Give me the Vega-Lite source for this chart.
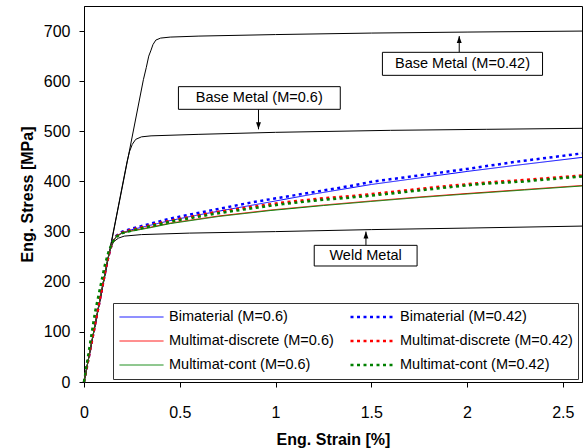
{
  "$schema": "https://vega.github.io/schema/vega-lite/v6.json",
  "width": 498,
  "height": 376,
  "autosize": {"type": "none"},
  "padding": {"left": 84, "top": 6, "right": 2, "bottom": 66},
  "background": "white",
  "config": {
    "font": "Liberation Sans",
    "view": {"stroke": "black", "strokeWidth": 1},
    "axis": {"grid": false, "domainColor": "black", "tickColor": "black", "tickSize": 5, "labelColor": "black", "titleColor": "black", "labelFontSize": 16, "titleFontSize": 16, "titleFontWeight": "bold", "labelFont": "Liberation Sans", "titleFont": "Liberation Sans", "labelFlush": false}
  },
  "datasets": {
    "base": [
      {"curve": "Base Metal (M=0.42)", "strain": 0, "stress": 0},
      {"curve": "Base Metal (M=0.42)", "strain": 0.31, "stress": 603},
      {"curve": "Base Metal (M=0.42)", "strain": 0.325, "stress": 627},
      {"curve": "Base Metal (M=0.42)", "strain": 0.338, "stress": 650},
      {"curve": "Base Metal (M=0.42)", "strain": 0.35, "stress": 662},
      {"curve": "Base Metal (M=0.42)", "strain": 0.36, "stress": 673},
      {"curve": "Base Metal (M=0.42)", "strain": 0.375, "stress": 682},
      {"curve": "Base Metal (M=0.42)", "strain": 0.4, "stress": 686},
      {"curve": "Base Metal (M=0.42)", "strain": 0.45, "stress": 688},
      {"curve": "Base Metal (M=0.42)", "strain": 0.6, "stress": 690},
      {"curve": "Base Metal (M=0.42)", "strain": 1.0, "stress": 693},
      {"curve": "Base Metal (M=0.42)", "strain": 1.5, "stress": 696},
      {"curve": "Base Metal (M=0.42)", "strain": 2.0, "stress": 698},
      {"curve": "Base Metal (M=0.42)", "strain": 2.6, "stress": 700},
      {"curve": "Base Metal (M=0.6)", "strain": 0, "stress": 0},
      {"curve": "Base Metal (M=0.6)", "strain": 0.225, "stress": 440},
      {"curve": "Base Metal (M=0.6)", "strain": 0.238, "stress": 460},
      {"curve": "Base Metal (M=0.6)", "strain": 0.252, "stress": 474},
      {"curve": "Base Metal (M=0.6)", "strain": 0.27, "stress": 484},
      {"curve": "Base Metal (M=0.6)", "strain": 0.3, "stress": 489},
      {"curve": "Base Metal (M=0.6)", "strain": 0.35, "stress": 491},
      {"curve": "Base Metal (M=0.6)", "strain": 0.6, "stress": 494},
      {"curve": "Base Metal (M=0.6)", "strain": 1.0, "stress": 498},
      {"curve": "Base Metal (M=0.6)", "strain": 1.6, "stress": 502},
      {"curve": "Base Metal (M=0.6)", "strain": 2.1, "stress": 504},
      {"curve": "Base Metal (M=0.6)", "strain": 2.6, "stress": 506},
      {"curve": "Weld Metal", "strain": 0, "stress": 0},
      {"curve": "Weld Metal", "strain": 0.128, "stress": 252},
      {"curve": "Weld Metal", "strain": 0.14, "stress": 268},
      {"curve": "Weld Metal", "strain": 0.155, "stress": 280},
      {"curve": "Weld Metal", "strain": 0.18, "stress": 287},
      {"curve": "Weld Metal", "strain": 0.21, "stress": 291},
      {"curve": "Weld Metal", "strain": 0.3, "stress": 294},
      {"curve": "Weld Metal", "strain": 0.55, "stress": 297},
      {"curve": "Weld Metal", "strain": 1.0, "stress": 300},
      {"curve": "Weld Metal", "strain": 1.5, "stress": 304},
      {"curve": "Weld Metal", "strain": 2.0, "stress": 307},
      {"curve": "Weld Metal", "strain": 2.6, "stress": 311}
    ],
    "fem": [
      {"series": "Bimaterial (M=0.6)", "strain": 0, "stress": 0},
      {"series": "Bimaterial (M=0.6)", "strain": 0.12, "stress": 238},
      {"series": "Bimaterial (M=0.6)", "strain": 0.135, "stress": 262},
      {"series": "Bimaterial (M=0.6)", "strain": 0.15, "stress": 280},
      {"series": "Bimaterial (M=0.6)", "strain": 0.17, "stress": 291},
      {"series": "Bimaterial (M=0.6)", "strain": 0.2, "stress": 298},
      {"series": "Bimaterial (M=0.6)", "strain": 0.25, "stress": 304},
      {"series": "Bimaterial (M=0.6)", "strain": 0.35, "stress": 313},
      {"series": "Bimaterial (M=0.6)", "strain": 0.45, "stress": 322},
      {"series": "Bimaterial (M=0.6)", "strain": 0.58, "stress": 332},
      {"series": "Bimaterial (M=0.6)", "strain": 0.75, "stress": 344},
      {"series": "Bimaterial (M=0.6)", "strain": 0.97, "stress": 359},
      {"series": "Bimaterial (M=0.6)", "strain": 1.2, "stress": 375},
      {"series": "Bimaterial (M=0.6)", "strain": 1.5, "stress": 394},
      {"series": "Bimaterial (M=0.6)", "strain": 1.75, "stress": 407},
      {"series": "Bimaterial (M=0.6)", "strain": 2.0, "stress": 420},
      {"series": "Bimaterial (M=0.6)", "strain": 2.25, "stress": 432},
      {"series": "Bimaterial (M=0.6)", "strain": 2.6, "stress": 448},
      {"series": "Multimat-discrete (M=0.6)", "strain": 0, "stress": 0},
      {"series": "Multimat-discrete (M=0.6)", "strain": 0.12, "stress": 238},
      {"series": "Multimat-discrete (M=0.6)", "strain": 0.135, "stress": 262},
      {"series": "Multimat-discrete (M=0.6)", "strain": 0.15, "stress": 280},
      {"series": "Multimat-discrete (M=0.6)", "strain": 0.17, "stress": 291},
      {"series": "Multimat-discrete (M=0.6)", "strain": 0.2, "stress": 298},
      {"series": "Multimat-discrete (M=0.6)", "strain": 0.25, "stress": 302},
      {"series": "Multimat-discrete (M=0.6)", "strain": 0.35, "stress": 309},
      {"series": "Multimat-discrete (M=0.6)", "strain": 0.45, "stress": 317},
      {"series": "Multimat-discrete (M=0.6)", "strain": 0.7, "stress": 331},
      {"series": "Multimat-discrete (M=0.6)", "strain": 0.972, "stress": 343},
      {"series": "Multimat-discrete (M=0.6)", "strain": 1.25, "stress": 353},
      {"series": "Multimat-discrete (M=0.6)", "strain": 1.495, "stress": 361},
      {"series": "Multimat-discrete (M=0.6)", "strain": 1.75, "stress": 369},
      {"series": "Multimat-discrete (M=0.6)", "strain": 2.0, "stress": 376},
      {"series": "Multimat-discrete (M=0.6)", "strain": 2.3, "stress": 384},
      {"series": "Multimat-discrete (M=0.6)", "strain": 2.6, "stress": 392},
      {"series": "Multimat-cont (M=0.6)", "strain": 0, "stress": 0},
      {"series": "Multimat-cont (M=0.6)", "strain": 0.12, "stress": 238},
      {"series": "Multimat-cont (M=0.6)", "strain": 0.135, "stress": 262},
      {"series": "Multimat-cont (M=0.6)", "strain": 0.15, "stress": 280},
      {"series": "Multimat-cont (M=0.6)", "strain": 0.17, "stress": 290},
      {"series": "Multimat-cont (M=0.6)", "strain": 0.2, "stress": 297},
      {"series": "Multimat-cont (M=0.6)", "strain": 0.25, "stress": 301},
      {"series": "Multimat-cont (M=0.6)", "strain": 0.35, "stress": 308},
      {"series": "Multimat-cont (M=0.6)", "strain": 0.45, "stress": 316},
      {"series": "Multimat-cont (M=0.6)", "strain": 0.7, "stress": 330},
      {"series": "Multimat-cont (M=0.6)", "strain": 0.972, "stress": 342},
      {"series": "Multimat-cont (M=0.6)", "strain": 1.25, "stress": 352},
      {"series": "Multimat-cont (M=0.6)", "strain": 1.495, "stress": 360},
      {"series": "Multimat-cont (M=0.6)", "strain": 1.75, "stress": 368},
      {"series": "Multimat-cont (M=0.6)", "strain": 2.0, "stress": 375},
      {"series": "Multimat-cont (M=0.6)", "strain": 2.3, "stress": 383},
      {"series": "Multimat-cont (M=0.6)", "strain": 2.6, "stress": 391},
      {"series": "Bimaterial (M=0.42)", "strain": 0, "stress": 0},
      {"series": "Bimaterial (M=0.42)", "strain": 0.12, "stress": 238},
      {"series": "Bimaterial (M=0.42)", "strain": 0.135, "stress": 262},
      {"series": "Bimaterial (M=0.42)", "strain": 0.15, "stress": 281},
      {"series": "Bimaterial (M=0.42)", "strain": 0.17, "stress": 292},
      {"series": "Bimaterial (M=0.42)", "strain": 0.2, "stress": 300},
      {"series": "Bimaterial (M=0.42)", "strain": 0.25, "stress": 306},
      {"series": "Bimaterial (M=0.42)", "strain": 0.35, "stress": 316},
      {"series": "Bimaterial (M=0.42)", "strain": 0.45, "stress": 326},
      {"series": "Bimaterial (M=0.42)", "strain": 0.58, "stress": 336},
      {"series": "Bimaterial (M=0.42)", "strain": 0.711, "stress": 346},
      {"series": "Bimaterial (M=0.42)", "strain": 0.885, "stress": 359},
      {"series": "Bimaterial (M=0.42)", "strain": 1.06, "stress": 370},
      {"series": "Bimaterial (M=0.42)", "strain": 1.234, "stress": 381},
      {"series": "Bimaterial (M=0.42)", "strain": 1.39, "stress": 391},
      {"series": "Bimaterial (M=0.42)", "strain": 1.512, "stress": 400},
      {"series": "Bimaterial (M=0.42)", "strain": 1.75, "stress": 412},
      {"series": "Bimaterial (M=0.42)", "strain": 2.0, "stress": 425},
      {"series": "Bimaterial (M=0.42)", "strain": 2.25, "stress": 439},
      {"series": "Bimaterial (M=0.42)", "strain": 2.6, "stress": 456},
      {"series": "Multimat-discrete (M=0.42)", "strain": 0, "stress": 0},
      {"series": "Multimat-discrete (M=0.42)", "strain": 0.12, "stress": 238},
      {"series": "Multimat-discrete (M=0.42)", "strain": 0.135, "stress": 262},
      {"series": "Multimat-discrete (M=0.42)", "strain": 0.15, "stress": 280},
      {"series": "Multimat-discrete (M=0.42)", "strain": 0.17, "stress": 291},
      {"series": "Multimat-discrete (M=0.42)", "strain": 0.2, "stress": 298},
      {"series": "Multimat-discrete (M=0.42)", "strain": 0.25, "stress": 304},
      {"series": "Multimat-discrete (M=0.42)", "strain": 0.35, "stress": 313},
      {"series": "Multimat-discrete (M=0.42)", "strain": 0.467, "stress": 323},
      {"series": "Multimat-discrete (M=0.42)", "strain": 0.676, "stress": 338},
      {"series": "Multimat-discrete (M=0.42)", "strain": 0.85, "stress": 348},
      {"series": "Multimat-discrete (M=0.42)", "strain": 1.04, "stress": 358},
      {"series": "Multimat-discrete (M=0.42)", "strain": 1.234, "stress": 366},
      {"series": "Multimat-discrete (M=0.42)", "strain": 1.425, "stress": 372},
      {"series": "Multimat-discrete (M=0.42)", "strain": 1.53, "stress": 376},
      {"series": "Multimat-discrete (M=0.42)", "strain": 1.7, "stress": 383},
      {"series": "Multimat-discrete (M=0.42)", "strain": 1.843, "stress": 389},
      {"series": "Multimat-discrete (M=0.42)", "strain": 2.07, "stress": 397},
      {"series": "Multimat-discrete (M=0.42)", "strain": 2.296, "stress": 403},
      {"series": "Multimat-discrete (M=0.42)", "strain": 2.6, "stress": 412},
      {"series": "Multimat-cont (M=0.42)", "strain": 0, "stress": 0},
      {"series": "Multimat-cont (M=0.42)", "strain": 0.058, "stress": 140},
      {"series": "Multimat-cont (M=0.42)", "strain": 0.11, "stress": 235},
      {"series": "Multimat-cont (M=0.42)", "strain": 0.13, "stress": 262},
      {"series": "Multimat-cont (M=0.42)", "strain": 0.15, "stress": 280},
      {"series": "Multimat-cont (M=0.42)", "strain": 0.17, "stress": 290},
      {"series": "Multimat-cont (M=0.42)", "strain": 0.2, "stress": 297},
      {"series": "Multimat-cont (M=0.42)", "strain": 0.25, "stress": 302},
      {"series": "Multimat-cont (M=0.42)", "strain": 0.35, "stress": 311},
      {"series": "Multimat-cont (M=0.42)", "strain": 0.467, "stress": 321},
      {"series": "Multimat-cont (M=0.42)", "strain": 0.676, "stress": 335},
      {"series": "Multimat-cont (M=0.42)", "strain": 0.85, "stress": 345},
      {"series": "Multimat-cont (M=0.42)", "strain": 1.04, "stress": 355},
      {"series": "Multimat-cont (M=0.42)", "strain": 1.234, "stress": 363},
      {"series": "Multimat-cont (M=0.42)", "strain": 1.425, "stress": 369},
      {"series": "Multimat-cont (M=0.42)", "strain": 1.53, "stress": 373},
      {"series": "Multimat-cont (M=0.42)", "strain": 1.7, "stress": 380},
      {"series": "Multimat-cont (M=0.42)", "strain": 1.843, "stress": 386},
      {"series": "Multimat-cont (M=0.42)", "strain": 2.07, "stress": 395},
      {"series": "Multimat-cont (M=0.42)", "strain": 2.296, "stress": 400},
      {"series": "Multimat-cont (M=0.42)", "strain": 2.6, "stress": 410}
    ],
    "ann": [
      {"label": "Base Metal (M=0.42)", "tx": 1.976, "ty": 634.6, "x1": 1.558, "x2": 2.394, "y1": 611.7, "y2": 657.6, "ax": 1.959, "ay1": 657.6, "ay2": 690, "dir": "up"},
      {"label": "Base Metal (M=0.6)", "tx": 0.915, "ty": 566.5, "x1": 0.493, "x2": 1.338, "y1": 543.9, "y2": 589.1, "ax": 0.911, "ay1": 543.9, "ay2": 504, "dir": "down"},
      {"label": "Weld Metal", "tx": 1.47, "ty": 252, "x1": 1.202, "x2": 1.739, "y1": 231.4, "y2": 272.6, "ax": 1.472, "ay1": 272.6, "ay2": 300, "dir": "up"}
    ]
  },
  "layer": [
    {
      "data": {"name": "base"},
      "mark": {"type": "line", "color": "black", "strokeWidth": 1},
      "encoding": {
        "x": {"field": "strain", "type": "quantitative", "scale": {"domain": [0, 2.6], "nice": false, "zero": true},
          "axis": {"title": "Eng. Strain [%]", "values": [0, 0.5, 1, 1.5, 2, 2.5], "format": "~g", "labelPadding": 17, "titlePadding": 11}},
        "y": {"field": "stress", "type": "quantitative", "scale": {"domain": [0, 750], "nice": false},
          "axis": {"title": "Eng. Stress [MPa]", "values": [0, 100, 200, 300, 400, 500, 600, 700], "labelPadding": 9, "titlePadding": 8}},
        "detail": {"field": "curve", "type": "nominal"},
        "order": {"field": "strain", "type": "quantitative"}
      }
    },
    {
      "data": {"name": "fem"},
      "mark": {"type": "line"},
      "encoding": {
        "x": {"field": "strain", "type": "quantitative"},
        "y": {"field": "stress", "type": "quantitative"},
        "order": {"field": "strain", "type": "quantitative"},
        "color": {"field": "series", "type": "nominal",
          "scale": {"domain": ["Bimaterial (M=0.6)", "Multimat-discrete (M=0.6)", "Multimat-cont (M=0.6)", "Bimaterial (M=0.42)", "Multimat-discrete (M=0.42)", "Multimat-cont (M=0.42)"],
            "range": ["#0000ff", "#ff0000", "#008000", "#0000ff", "#ff0000", "#008000"]},
          "legend": {"title": null, "orient": "none", "legendX": 29, "legendY": 297, "columns": 2, "columnPadding": 15, "rowPadding": 6,
            "symbolType": "stroke", "symbolSize": 1936, "clipHeight": 18, "labelFontSize": 14.5, "labelFont": "Liberation Sans", "labelColor": "black", "labelLimit": 400,
            "padding": 5, "strokeColor": "#333333", "fillColor": "white", "labelOffset": 4}},
        "strokeDash": {"field": "series", "type": "nominal",
          "scale": {"domain": ["Bimaterial (M=0.6)", "Multimat-discrete (M=0.6)", "Multimat-cont (M=0.6)", "Bimaterial (M=0.42)", "Multimat-discrete (M=0.42)", "Multimat-cont (M=0.42)"],
            "range": [[1, 0], [1, 0], [1, 0], [3, 3.5], [3, 3.5], [3, 3.5]]}},
        "strokeWidth": {"field": "series", "type": "nominal",
          "scale": {"type": "ordinal", "domain": ["Bimaterial (M=0.6)", "Multimat-discrete (M=0.6)", "Multimat-cont (M=0.6)", "Bimaterial (M=0.42)", "Multimat-discrete (M=0.42)", "Multimat-cont (M=0.42)"],
            "range": [1, 1, 1, 2.5, 2.5, 2.5]}}
      }
    },
    {
      "data": {"name": "ann"},
      "mark": {"type": "rule", "color": "black", "strokeWidth": 1},
      "encoding": {
        "x": {"field": "ax", "type": "quantitative"},
        "y": {"field": "ay1", "type": "quantitative"},
        "y2": {"field": "ay2"}
      }
    },
    {
      "data": {"name": "ann"},
      "transform": [{"filter": "datum.dir == 'up'"}],
      "mark": {"type": "point", "shape": "M0,0L-0.7,2L0.7,2Z", "filled": true, "color": "black", "size": 49, "opacity": 1},
      "encoding": {
        "x": {"field": "ax", "type": "quantitative"},
        "y": {"field": "ay2", "type": "quantitative"}
      }
    },
    {
      "data": {"name": "ann"},
      "transform": [{"filter": "datum.dir == 'down'"}],
      "mark": {"type": "point", "shape": "M0,0L-0.7,-2L0.7,-2Z", "filled": true, "color": "black", "size": 49, "opacity": 1},
      "encoding": {
        "x": {"field": "ax", "type": "quantitative"},
        "y": {"field": "ay2", "type": "quantitative"}
      }
    },
    {
      "data": {"name": "ann"},
      "mark": {"type": "rect", "fill": "white", "stroke": "black", "strokeWidth": 1},
      "encoding": {
        "x": {"field": "x1", "type": "quantitative"},
        "x2": {"field": "x2"},
        "y": {"field": "y1", "type": "quantitative"},
        "y2": {"field": "y2"}
      }
    },
    {
      "data": {"name": "ann"},
      "mark": {"type": "text", "font": "Liberation Sans", "fontSize": 14.5, "color": "black", "align": "center", "baseline": "middle"},
      "encoding": {
        "x": {"field": "tx", "type": "quantitative"},
        "y": {"field": "ty", "type": "quantitative"},
        "text": {"field": "label"}
      }
    }
  ]
}
